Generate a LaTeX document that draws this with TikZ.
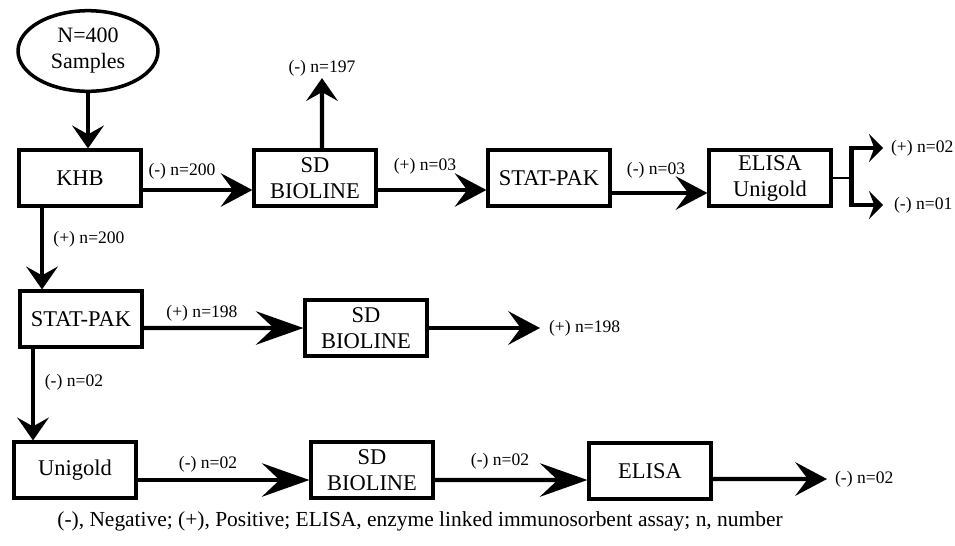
\documentclass[tikz,border=0pt]{standalone}
\usepackage{fontspec}
\setmainfont{Liberation Serif}
\usetikzlibrary{arrows.meta, shapes.geometric}

\begin{document}
\begin{tikzpicture}[
    x=0.02cm, y=-0.02cm,
    box/.style={draw, line width=1.8pt, minimum width=2.44cm, minimum height=1.12cm, align=center, inner sep=1pt, font=\fontsize{12.8}{14.8}\selectfont},
    lbl/.style={inner sep=1pt, font=\fontsize{10}{12}\selectfont},
    flow/.style={line width=2.5pt, -{Stealth[length=18pt, width=19pt, inset=7pt]}},
    longflow/.style={line width=2.5pt, -{Stealth[length=27pt, width=19pt, inset=10pt]}},
    shortflow/.style={line width=2.5pt, -{Stealth[length=13pt, width=18pt, inset=5pt]}},
    forkflow/.style={line width=2.5pt, -{Stealth[length=8pt, width=16pt, inset=3pt]}}
]
\useasboundingbox (0,0) rectangle (955,545);

% Samples
\node[draw, ellipse, line width=2pt, minimum width=2.8cm, minimum height=1.58cm, align=center, font=\fontsize{12.5}{14.8}\selectfont] (samples) at (88,51) {N=400\\Samples};

% Top row
\node[box] (khb) at (80,178) {KHB};
\node[box] (sdtop) at (315,178) {SD\\BIOLINE};
\node[box] (stattop) at (549,178) {STAT-PAK};
\node[box] (elisatop) at (770,178) {ELISA\\Unigold};

% Middle row
\node[box] (statmid) at (81,319) {STAT-PAK};
\node[box] (sdmid) at (366,328) {SD\\BIOLINE};

% Bottom row
\node[box] (unigold) at (75,470) {Unigold};
\node[box] (sdbot) at (372,470) {SD\\BIOLINE};
\node[box] (elisabot) at (650,471) {ELISA};

% Labels
\node[lbl] (neg200) at (182,171) {(-) n=200};
\node[lbl] (neg197) at (322,68) {(-) n=197};
\node[lbl] (pos03) at (425,166) {(+) n=03};
\node[lbl] (neg03) at (656,170) {(-) n=03};
\node[lbl, anchor=west] (pos02) at (889,148) {(+) n=02};
\node[lbl, anchor=west] (neg01) at (892,205) {(-) n=01};
\node[lbl] (pos200) at (89,239) {(+) n=200};
\node[lbl] (pos198a) at (202,313) {(+) n=198};
\node[lbl, anchor=west] (pos198b) at (547,328) {(+) n=198};
\node[lbl] (neg02a) at (74,382) {(-) n=02};
\node[lbl] (neg02b) at (208,464) {(-) n=02};
\node[lbl] (neg02c) at (500,461) {(-) n=02};
\node[lbl, anchor=west] (neg02d) at (833,479) {(-) n=02};

% Arrows, top row
\draw[shortflow] (samples.south) -- (samples.south |- khb.north);
\draw[flow] ([yshift=-0.24cm]khb.east) -- ([yshift=-0.24cm]sdtop.west);
\draw[shortflow] ([xshift=0.14cm]sdtop.north) -- (neg197.south);
\draw[flow] ([yshift=-0.24cm]sdtop.east) -- ([yshift=-0.24cm]stattop.west);
\draw[flow] ([yshift=-0.3cm]stattop.east) -- ([yshift=-0.3cm]elisatop.west);
\coordinate (fork) at ([xshift=0.38cm]elisatop.east);
\draw[line width=1.3pt] (elisatop.east) -- (fork);
\draw[forkflow, shorten >=0.12cm] (fork) |- (pos02.west);
\draw[forkflow, shorten >=0.18cm] (fork) |- (neg01.west);

% Arrows, middle row
\draw[shortflow] ([xshift=-0.76cm]khb.south) -- ([xshift=-0.76cm]khb.south |- statmid.north);
\draw[longflow] ([yshift=-0.18cm]statmid.east) -- (sdmid.west);
\draw[flow] (sdmid.east) -- ([xshift=-0.14cm]pos198b.west);

% Arrows, bottom row
\draw[shortflow] ([xshift=-0.96cm]statmid.south) -- ([xshift=-0.96cm]statmid.south |- unigold.north);
\draw[longflow] ([yshift=-0.2cm]unigold.east) -- ([yshift=-0.2cm]sdbot.west);
\draw[longflow] ([yshift=-0.2cm]sdbot.east) -- ([yshift=-0.18cm]elisabot.west);
\draw[flow] ([yshift=-0.16cm]elisabot.east) -- ([xshift=-0.12cm]neg02d.west);

% Legend
\node[font=\fontsize{12.2}{14}\selectfont] (legend) at (420,521) {(-), Negative; (+), Positive; ELISA, enzyme linked immunosorbent assay; n, number};

\end{tikzpicture}
\end{document}
